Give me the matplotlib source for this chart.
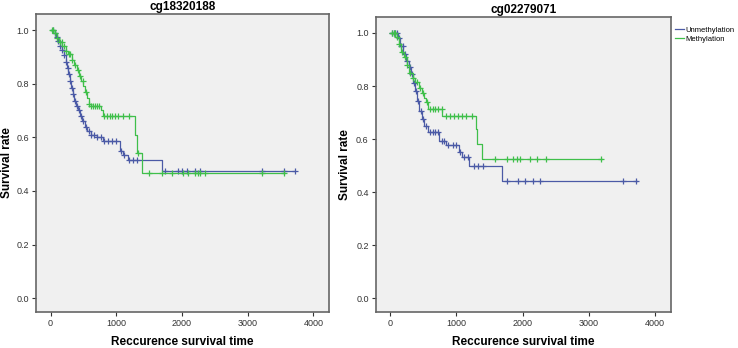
import numpy as np
import matplotlib.pyplot as plt

plt.rcParams['font.family'] = ['Liberation Sans', 'DejaVu Sans']

titles = ["cg18320188", "cg02279071"]
group_names = ["Unmethylation", "Methylation"]

# left panel (cg18320188): step knots (time, survival), end time, censor times
l_unmeth_t = [0, 40, 80, 110, 140, 170, 200, 230, 250, 270, 290, 310, 335, 360, 390, 420,
              450, 480, 520, 560, 620, 700, 800, 1050, 1100, 1180, 1690]
l_unmeth_s = [1.0, 0.99, 0.975, 0.96, 0.94, 0.925, 0.905, 0.88, 0.86, 0.835, 0.81, 0.785,
              0.76, 0.735, 0.715, 0.70, 0.68, 0.66, 0.64, 0.625, 0.61, 0.60, 0.585, 0.55,
              0.535, 0.517, 0.474]
l_unmeth_end = 3724
l_unmeth_cens = [30, 60, 90, 120, 150, 180, 210, 240, 260, 280, 300, 320, 340, 370, 400, 430,
                 460, 500, 540, 580, 620, 660, 700, 760, 820, 880, 940, 1000, 1070, 1120, 1200,
                 1260, 1320, 1743, 1946, 1997, 2073, 2200, 2276, 3216, 3546, 3724]

l_meth_t = [0, 60, 100, 130, 180, 230, 270, 320, 360, 400, 430, 460, 500, 530, 560, 580,
            620, 760, 800, 1285, 1316, 1387]
l_meth_s = [1.0, 0.99, 0.97, 0.955, 0.94, 0.92, 0.91, 0.89, 0.87, 0.85, 0.83, 0.81, 0.79,
            0.77, 0.745, 0.725, 0.716, 0.70, 0.678, 0.607, 0.54, 0.467]
l_meth_end = 3546
l_meth_cens = [20, 40, 70, 100, 140, 170, 200, 240, 280, 300, 330, 370, 420, 450, 490, 540,
               590, 620, 650, 680, 700, 740, 820, 860, 900, 940, 980, 1020, 1100, 1200,
               1330, 1500, 1700, 1850, 2021, 2098, 2200, 2250, 2276, 2352, 3216, 3546]

# right panel (cg02279071)
r_unmeth_t = [0, 120, 150, 200, 240, 280, 316, 340, 370, 400, 440, 480, 516, 565, 740, 840,
              1040, 1092, 1190, 1684]
r_unmeth_s = [1.0, 0.98, 0.95, 0.92, 0.895, 0.87, 0.845, 0.81, 0.78, 0.745, 0.705, 0.675,
              0.65, 0.625, 0.594, 0.579, 0.55, 0.531, 0.497, 0.441]
r_unmeth_end = 3724
r_unmeth_cens = [20, 50, 80, 100, 130, 160, 190, 220, 260, 300, 330, 360, 390, 420, 460, 500,
                 540, 600, 640, 680, 720, 780, 820, 880, 950, 1000, 1060, 1120, 1180, 1260,
                 1330, 1408, 1759, 1934, 2035, 2160, 2260, 3513, 3714]

r_meth_t = [0, 80, 130, 170, 210, 250, 290, 340, 380, 440, 480, 516, 540, 565, 790, 1293,
            1317, 1393]
r_meth_s = [1.0, 0.985, 0.96, 0.93, 0.91, 0.88, 0.85, 0.83, 0.815, 0.794, 0.775, 0.756,
            0.74, 0.713, 0.687, 0.637, 0.581, 0.525]
r_meth_end = 3197
r_meth_cens = [20, 50, 70, 100, 140, 180, 220, 260, 300, 350, 400, 450, 500, 560, 600, 640,
               680, 720, 780, 840, 900, 960, 1020, 1080, 1150, 1230, 1583, 1759, 1859, 1910,
               1959, 2110, 2211, 2361, 3188]

x_ticks = [0, 1000, 2000, 3000, 4000]
y_ticks = [0.0, 0.2, 0.4, 0.6, 0.8, 1.0]

blue = '#4b5aa6'
green = '#3fbf4a'


def draw_curve(ax, t, s, end, cens, color, label):
    tt = list(t) + [end]
    ss = list(s) + [s[-1]]
    ax.plot(tt, ss, drawstyle='steps-post', color=color, lw=0.9, label=label)
    idx = np.searchsorted(t, cens, side='right') - 1
    cy = np.array(s)[idx]
    ax.plot(cens, cy, ls='none', marker='+', ms=4.5, mew=0.9, color=color)


fig = plt.figure(figsize=(7.38, 3.48), dpi=100)
ax1 = fig.add_axes([0.049, 0.103, 0.397, 0.857])
ax2 = fig.add_axes([0.509, 0.103, 0.400, 0.848])

panels = [
    (ax1, [(l_unmeth_t, l_unmeth_s, l_unmeth_end, l_unmeth_cens),
           (l_meth_t, l_meth_s, l_meth_end, l_meth_cens)], -0.078),
    (ax2, [(r_unmeth_t, r_unmeth_s, r_unmeth_end, r_unmeth_cens),
           (r_meth_t, r_meth_s, r_meth_end, r_meth_cens)], -0.084),
]

for i, (ax, curves, ylab_x) in enumerate(panels):
    ax.set_facecolor('#f0f0f0')
    for (t, s, end, cens), color, name in zip(curves, [blue, green], group_names):
        draw_curve(ax, t, s, end, cens, color, name)
    ax.set_xlim(-220, 4240)
    ax.set_ylim(-0.052, 1.06)
    ax.set_xticks(x_ticks)
    ax.set_yticks(y_ticks)
    ax.set_yticklabels([f"{v:.1f}" for v in y_ticks])
    ax.tick_params(labelsize=6.5, colors='#333333', length=3, width=0.8, pad=2)
    for sp in ax.spines.values():
        sp.set_color('#666666')
        sp.set_linewidth(1.2)
    ax.set_title(titles[i], fontsize=8.5, fontweight='bold', pad=3)
    ax.set_xlabel("Reccurence survival time", fontsize=8.5, fontweight='bold', labelpad=6)
    ax.set_ylabel("Survival rate", fontsize=8.5, fontweight='bold')
    ax.yaxis.set_label_coords(ylab_x, 0.5)

ax2.legend(loc='upper left', bbox_to_anchor=(1.0, 0.98), frameon=False, fontsize=5.5,
           handlelength=1.2, handletextpad=0.2, borderaxespad=0.1, labelspacing=0.2)

fig.savefig('out.png', dpi=100)
